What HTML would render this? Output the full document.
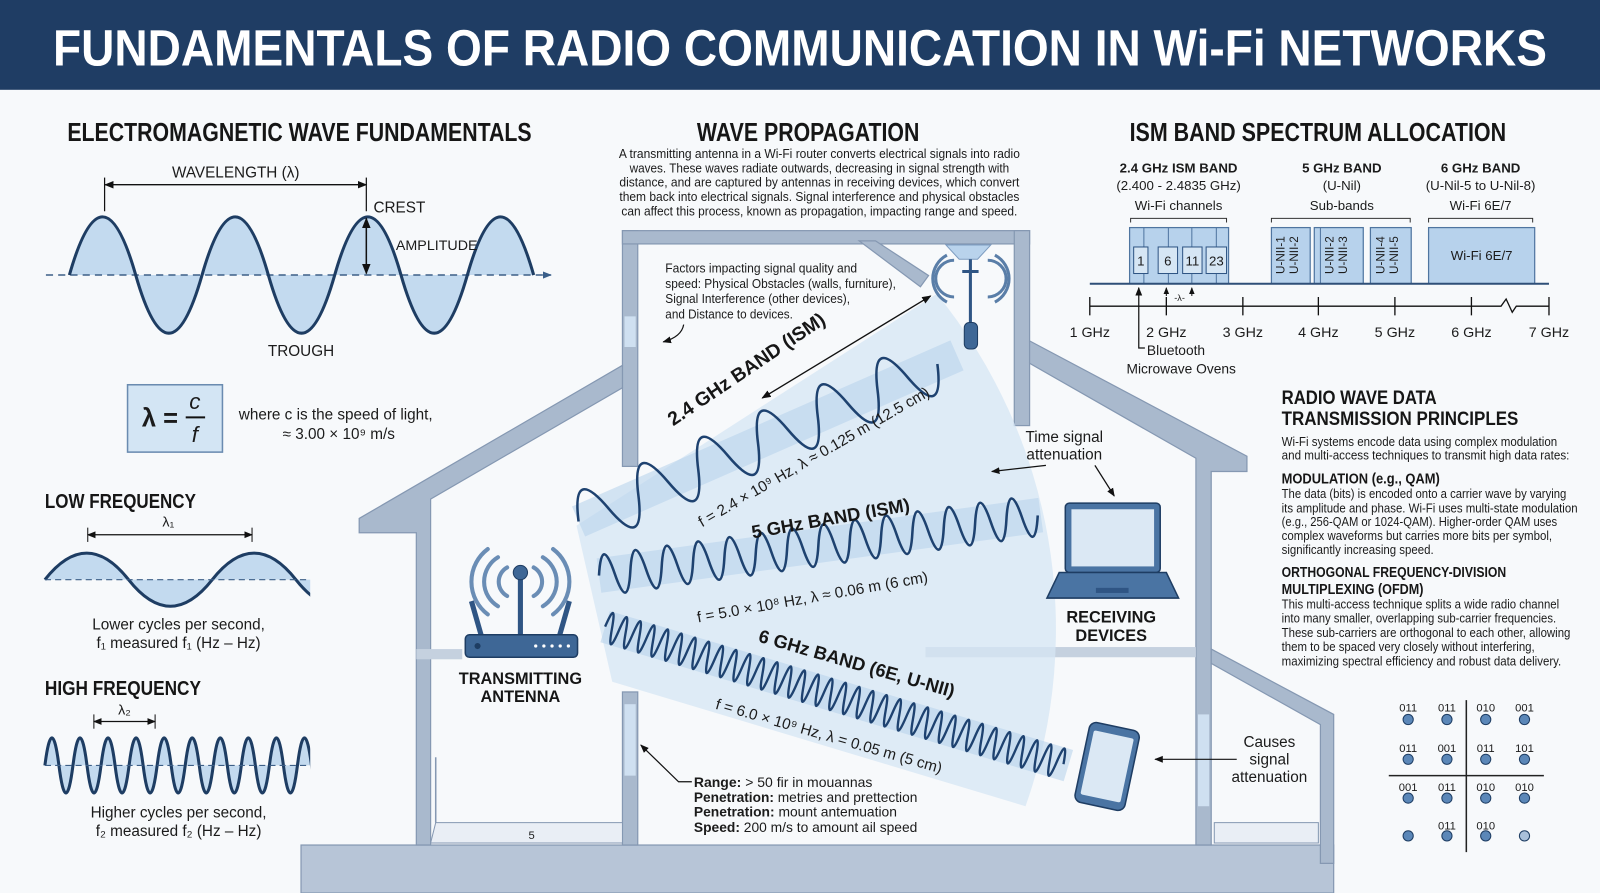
<!DOCTYPE html>
<html><head><meta charset="utf-8"><style>
html,body{margin:0;padding:0;background:#f7f9fb;}
svg{display:block;}
text{font-family:"Liberation Sans Narrow","Liberation Sans",sans-serif;fill:#1b1b1b;}
.b{font-weight:bold;}
.h{font-family:"Liberation Sans Narrow","Liberation Sans",sans-serif;font-weight:bold;fill:#161616;}
</style></head><body>
<svg width="1600" height="893" viewBox="0 0 1568 875" preserveAspectRatio="none" xmlns="http://www.w3.org/2000/svg">
<defs>
<marker id="ar" viewBox="0 0 10 10" refX="9" refY="5" markerWidth="7" markerHeight="7" orient="auto-start-reverse"><path d="M0,1 L10,5 L0,9 Z" fill="#111"/></marker>
<marker id="ab" viewBox="0 0 10 10" refX="9" refY="5" markerWidth="6" markerHeight="6" orient="auto-start-reverse"><path d="M0,1 L10,5 L0,9 Z" fill="#3a5f8a"/></marker>
<clipPath id="cl1"><rect x="40" y="520" width="264" height="80"/></clipPath>
<clipPath id="cl2"><rect x="40" y="710" width="264" height="80"/></clipPath>
</defs>
<rect width="1568" height="875" fill="#f7f9fb"/>
<!-- title -->
<rect x="0" y="0" width="1568" height="88" fill="#1f3d64"/>
<text x="52" y="64" class="h" style="fill:#fff;font-family:'Liberation Sans',sans-serif" font-size="50" textLength="1464" lengthAdjust="spacingAndGlyphs">FUNDAMENTALS OF RADIO COMMUNICATION IN Wi-Fi NETWORKS</text>

<!-- section headings -->
<text x="66" y="138" class="h" font-size="25" textLength="455" lengthAdjust="spacingAndGlyphs">ELECTROMAGNETIC WAVE FUNDAMENTALS</text>
<text x="683" y="138" class="h" font-size="25" textLength="218" lengthAdjust="spacingAndGlyphs">WAVE PROPAGATION</text>
<text x="1107" y="138" class="h" font-size="25" textLength="369" lengthAdjust="spacingAndGlyphs">ISM BAND SPECTRUM ALLOCATION</text>

<!-- EM wave -->
<text x="231" y="174" font-size="15" text-anchor="middle">WAVELENGTH (λ)</text>
<line x1="103" y1="181" x2="359" y2="181" stroke="#111" stroke-width="1.3" marker-start="url(#ar)" marker-end="url(#ar)"/>
<line x1="102.5" y1="174" x2="102.5" y2="207" stroke="#111" stroke-width="1.2"/>
<line x1="359" y1="174" x2="359" y2="207" stroke="#111" stroke-width="1.2"/>
<path d="M68 269.5 q32.5 -114 65 0 t65 0 t65 0 t65 0 t65 0 t65 0 t65 0 Z" fill="#c3daef" stroke="none"/>
<line x1="45" y1="269.5" x2="540" y2="269.5" stroke="#3d5f87" stroke-width="1.5" stroke-dasharray="7 5" marker-end="url(#ab)"/>
<path d="M68 269.5 q32.5 -114 65 0 t65 0 t65 0 t65 0 t65 0 t65 0 t65 0" fill="none" stroke="#1e3d63" stroke-width="3"/>
<text x="366" y="208" font-size="15">CREST</text>
<text x="388" y="245" font-size="14">AMPLITUDE</text>
<line x1="359" y1="214" x2="359" y2="268" stroke="#111" stroke-width="1.5" marker-start="url(#ar)" marker-end="url(#ar)"/>
<text x="295" y="349" font-size="15" text-anchor="middle">TROUGH</text>
<rect x="125" y="377" width="93" height="66" fill="#d3e5f4" stroke="#6a8bb0" stroke-width="1.5"/>
<text x="139" y="418" class="b" font-size="25" style="font-family:'Liberation Sans',sans-serif">λ =</text>
<text x="191" y="401" font-size="22" text-anchor="middle" style="font-family:'Liberation Sans',sans-serif;font-style:italic">c</text>
<line x1="182" y1="409" x2="201" y2="409" stroke="#111" stroke-width="2"/>
<text x="191" y="433" font-size="22" text-anchor="middle" style="font-family:'Liberation Sans',sans-serif;font-style:italic">f</text>
<text x="329" y="411" font-size="15" text-anchor="middle">where c is the speed of light,</text>
<text x="332" y="430" font-size="15" text-anchor="middle">≈ 3.00 × 10⁹ m/s</text>

<!-- low freq -->
<text x="44" y="498" class="h" font-size="20" textLength="148" lengthAdjust="spacingAndGlyphs">LOW FREQUENCY</text>
<text x="165" y="516" font-size="14" text-anchor="middle">λ₁</text>
<line x1="86" y1="524" x2="247" y2="524" stroke="#111" stroke-width="1.2" marker-start="url(#ar)" marker-end="url(#ar)"/>
<line x1="86" y1="517" x2="86" y2="531" stroke="#111"/><line x1="247" y1="517" x2="247" y2="531" stroke="#111"/>
<g clip-path="url(#cl1)">
<path d="M44 568 q41 -52 82 0 t82 0 t82 0 t82 0 Z" fill="#c3daef"/>
<path d="M44 568 q41 -52 82 0 t82 0 t82 0 t82 0" fill="none" stroke="#1e3d63" stroke-width="3"/>
</g>
<line x1="44" y1="568" x2="303" y2="568" stroke="#3d5f87" stroke-width="1.2" stroke-dasharray="6 4"/>
<text x="175" y="617" font-size="15" text-anchor="middle">Lower cycles per second,</text>
<text x="175" y="635" font-size="15" text-anchor="middle">f₁ measured f₁ (Hz – Hz)</text>

<!-- high freq -->
<text x="44" y="681" class="h" font-size="20" textLength="153" lengthAdjust="spacingAndGlyphs">HIGH FREQUENCY</text>
<text x="122" y="700" font-size="14" text-anchor="middle">λ₂</text>
<line x1="92" y1="707" x2="152" y2="707" stroke="#111" stroke-width="1.2" marker-start="url(#ar)" marker-end="url(#ar)"/>
<line x1="92" y1="700" x2="92" y2="714" stroke="#111"/><line x1="152" y1="700" x2="152" y2="714" stroke="#111"/>
<g clip-path="url(#cl2)">
<path d="M44 750 q6.875 -54 13.75 0 t13.75 0 t13.75 0 t13.75 0 t13.75 0 t13.75 0 t13.75 0 t13.75 0 t13.75 0 t13.75 0 t13.75 0 t13.75 0 t13.75 0 t13.75 0 t13.75 0 t13.75 0 t13.75 0 t13.75 0 t13.75 0 t13.75 0 Z" fill="#c3daef"/>
<path d="M44 750 q6.875 -54 13.75 0 t13.75 0 t13.75 0 t13.75 0 t13.75 0 t13.75 0 t13.75 0 t13.75 0 t13.75 0 t13.75 0 t13.75 0 t13.75 0 t13.75 0 t13.75 0 t13.75 0 t13.75 0 t13.75 0 t13.75 0 t13.75 0 t13.75 0" fill="none" stroke="#1e3d63" stroke-width="3"/>
</g>
<line x1="44" y1="750" x2="303" y2="750" stroke="#3d5f87" stroke-width="1.2" stroke-dasharray="6 4"/>
<text x="175" y="801" font-size="15" text-anchor="middle">Higher cycles per second,</text>
<text x="175" y="819" font-size="15" text-anchor="middle">f₂ measured f₂ (Hz – Hz)</text>

<!-- wave propagation paragraph -->
<g font-size="12.5" text-anchor="middle">
<text x="803" y="155" textLength="393" lengthAdjust="spacingAndGlyphs">A transmitting antenna in a Wi-Fi router converts electrical signals into radio</text>
<text x="803" y="169" textLength="372" lengthAdjust="spacingAndGlyphs">waves. These waves radiate outwards, decreasing in signal strength with</text>
<text x="803" y="183" textLength="392" lengthAdjust="spacingAndGlyphs">distance, and are captured by antennas in receiving devices, which convert</text>
<text x="803" y="197" textLength="392" lengthAdjust="spacingAndGlyphs">them back into electrical signals. Signal interference and physical obstacles</text>
<text x="803" y="211" textLength="388" lengthAdjust="spacingAndGlyphs">can affect this process, known as propagation, impacting range and speed.</text>
</g>

<!-- HOUSE -->
<g fill="#a9b9cd" stroke="#8598b2" stroke-width="1.2">
<rect x="295" y="828" width="1012" height="47" fill="#b7c5d7"/>
<rect x="610" y="226" width="15" height="231"/>
<rect x="610" y="226" width="399" height="13"/>
<rect x="994" y="226" width="15" height="191"/>
<polygon points="842,236 858,236 910,270 902,281"/>
<polygon points="352,508 610,358 610,380 422,489 422,828 408,828 408,522 352,522"/>
<polygon points="1009,334 1222,447 1222,462 1187,462 1187,828 1172,828 1172,449 1009,356"/>
<polygon points="1187,636 1307,700 1307,846 1294,846 1294,710 1187,650"/>
<rect x="610" y="678" width="15" height="150"/>
<rect x="408" y="636" width="45" height="10" fill="#c5d1df" stroke="none"/>
<rect x="907" y="634" width="265" height="10" fill="#c5d1df" stroke="none"/>
</g>
<polygon points="427,806 610,806 610,826 422,826" fill="#e9eef5" stroke="#8598b2" stroke-width="1"/>
<line x1="427" y1="742" x2="427" y2="806" stroke="#8598b2" stroke-width="1.5"/>
<polygon points="1190,806 1292,806 1292,826 1190,826" fill="#e9eef5" stroke="#8598b2" stroke-width="1"/>
<rect x="612" y="310" width="11" height="30" fill="#cfe0f1"/>
<rect x="612" y="690" width="11" height="70" fill="#cfe0f1"/>
<rect x="1174" y="700" width="11" height="90" fill="#cfe0f1"/>

<!-- fan -->
<path d="M565,515 L918,288 A520 520 0 0 1 1005,790 L600,668 Z" fill="#d6e6f4" opacity="0.75"/>
<!-- beams -->
<g transform="translate(567,511) rotate(-23.7)"><rect x="0" y="-16" width="405" height="32" fill="#b9d3ec" opacity="0.6"/>
<path d="M0 0 q16 -54 32 0 t32 0 t32 0 t32 0 t32 0 t32 0 t32 0 t32 0 t32 0 t32 0 t32 0 t32 0" fill="none" stroke="#1e4270" stroke-width="2.5"/></g>
<g transform="translate(587,564) rotate(-7.8)"><rect x="0" y="-17" width="437" height="34" fill="#b9d3ec" opacity="0.6"/>
<path d="M0 0 q7.75 -40 15.5 0 t15.5 0 t15.5 0 t15.5 0 t15.5 0 t15.5 0 t15.5 0 t15.5 0 t15.5 0 t15.5 0 t15.5 0 t15.5 0 t15.5 0 t15.5 0 t15.5 0 t15.5 0 t15.5 0 t15.5 0 t15.5 0 t15.5 0 t15.5 0 t15.5 0 t15.5 0 t15.5 0 t15.5 0 t15.5 0 t15.5 0 t15.5 0" fill="none" stroke="#1e4270" stroke-width="2.5"/></g>
<g transform="translate(593,614) rotate(16.7)"><rect x="0" y="-16" width="474" height="32" fill="#b9d3ec" opacity="0.6"/>
<path d="M0 0 q3.5 -30 7 0 t7 0 t7 0 t7 0 t7 0 t7 0 t7 0 t7 0 t7 0 t7 0 t7 0 t7 0 t7 0 t7 0 t7 0 t7 0 t7 0 t7 0 t7 0 t7 0 t7 0 t7 0 t7 0 t7 0 t7 0 t7 0 t7 0 t7 0 t7 0 t7 0 t7 0 t7 0 t7 0 t7 0 t7 0 t7 0 t7 0 t7 0 t7 0 t7 0 t7 0 t7 0 t7 0 t7 0 t7 0 t7 0 t7 0 t7 0 t7 0 t7 0 t7 0 t7 0 t7 0 t7 0 t7 0 t7 0 t7 0 t7 0 t7 0 t7 0 t7 0 t7 0 t7 0 t7 0 t7 0 t7 0 t7 0" fill="none" stroke="#1e4270" stroke-width="2.3"/></g>

<!-- band labels -->
<text transform="translate(735,367) rotate(-34)" class="h" font-size="19" text-anchor="middle">2.4 GHz BAND (ISM)</text>
<text transform="translate(800,452) rotate(-30)" font-size="15" text-anchor="middle">f = 2.4 × 10⁹ Hz, λ ≈ 0.125 m (12.5 cm)</text>
<text transform="translate(815,514) rotate(-10)" class="h" font-size="18" text-anchor="middle">5 GHz BAND (ISM)</text>
<text transform="translate(797,590) rotate(-10)" font-size="15" text-anchor="middle">f = 5.0 × 10⁸ Hz, λ ≈ 0.06 m (6 cm)</text>
<text transform="translate(838,656) rotate(16)" class="h" font-size="18" text-anchor="middle">6 GHz BAND (6E, U-NII)</text>
<text transform="translate(811,726) rotate(16)" font-size="15" text-anchor="middle">f = 6.0 × 10⁹ Hz, λ = 0.05 m (5 cm)</text>
<line x1="747" y1="390" x2="912" y2="290" stroke="#111" stroke-width="1.3" marker-start="url(#ar)" marker-end="url(#ar)"/>

<!-- factors -->
<g font-size="12.5">
<text x="652" y="267" textLength="188" lengthAdjust="spacingAndGlyphs">Factors impacting signal quality and</text>
<text x="652" y="282" textLength="226" lengthAdjust="spacingAndGlyphs">speed: Physical Obstacles (walls, furniture),</text>
<text x="652" y="297" textLength="181" lengthAdjust="spacingAndGlyphs">Signal Interference (other devices),</text>
<text x="652" y="312" textLength="125" lengthAdjust="spacingAndGlyphs">and Distance to devices.</text>
</g>
<path d="M670,318 Q668,330 650,335" fill="none" stroke="#111" stroke-width="1.2" marker-end="url(#ar)"/>

<!-- ceiling AP -->
<g stroke="#5a7ea8" fill="none" stroke-width="3">
<path d="M935,255 a18 18 0 0 0 0 36"/><path d="M928,250 a26 26 0 0 0 0 46"/>
<path d="M968,255 a18 18 0 0 1 0 36"/><path d="M975,250 a26 26 0 0 1 0 46"/>
</g>
<path d="M927,240 L971,240 L958,254 L940,254 Z" fill="#b9d3ec" stroke="#7d9cc0"/>
<line x1="951" y1="254" x2="951" y2="318" stroke="#2f5584" stroke-width="3"/>
<line x1="943" y1="266" x2="959" y2="266" stroke="#2f5584" stroke-width="3"/>
<rect x="945" y="316" width="13" height="26" rx="5" fill="#3e6796" stroke="#1e3d63"/>

<!-- router -->
<g stroke="#6a8db5" fill="none" stroke-width="4" stroke-linecap="round">
<path d="M497,556 a16 16 0 0 0 0 28"/><path d="M488,546 a28 28 0 0 0 0 48"/><path d="M478,538 a40 40 0 0 0 0 64"/>
<path d="M523,556 a16 16 0 0 1 0 28"/><path d="M532,546 a28 28 0 0 1 0 48"/><path d="M542,538 a40 40 0 0 1 0 64"/>
</g>
<line x1="510" y1="566" x2="510" y2="624" stroke="#2f5584" stroke-width="5"/>
<circle cx="510" cy="561" r="7" fill="#3e6796" stroke="#1e3d63"/>
<line x1="462" y1="589" x2="472" y2="624" stroke="#2f5584" stroke-width="5"/>
<line x1="558" y1="589" x2="548" y2="624" stroke="#2f5584" stroke-width="5"/>
<rect x="456" y="622" width="110" height="22" rx="4" fill="#3e6796" stroke="#1e3d63" stroke-width="1.5"/>
<circle cx="468" cy="633" r="3" fill="#1e3d63"/>
<g fill="#fff"><circle cx="525" cy="633" r="1.6"/><circle cx="533" cy="633" r="1.6"/><circle cx="541" cy="633" r="1.6"/><circle cx="549" cy="633" r="1.6"/><circle cx="557" cy="633" r="1.6"/></g>
<text x="510" y="670" class="h" font-size="16" text-anchor="middle">TRANSMITTING</text>
<text x="510" y="688" class="h" font-size="16" text-anchor="middle">ANTENNA</text>

<!-- laptop -->
<rect x="1044" y="493" width="93" height="68" rx="4" fill="#4a74a3" stroke="#1e3d63" stroke-width="1.5"/>
<rect x="1050" y="499" width="81" height="56" fill="#dbe8f4"/>
<path d="M1038,561 L1143,561 L1155,586 L1026,586 Z" fill="#4a74a3" stroke="#1e3d63" stroke-width="1.5"/>
<rect x="1074" y="576" width="32" height="5" fill="#2f5584"/>
<text x="1089" y="610" class="h" font-size="16" text-anchor="middle">RECEIVING</text>
<text x="1089" y="628" class="h" font-size="16" text-anchor="middle">DEVICES</text>
<text x="1043" y="433" font-size="15" text-anchor="middle">Time signal</text>
<text x="1043" y="450" font-size="15" text-anchor="middle">attenuation</text>
<line x1="1025" y1="456" x2="972" y2="462" stroke="#111" stroke-width="1.2" marker-end="url(#ar)"/>
<line x1="1073" y1="456" x2="1092" y2="486" stroke="#111" stroke-width="1.2" marker-end="url(#ar)"/>

<!-- phone -->
<g transform="translate(1085,751) rotate(12)">
<rect x="-25" y="-40" width="50" height="80" rx="7" fill="#4a74a3" stroke="#1e3d63" stroke-width="1.5"/>
<rect x="-20" y="-32" width="40" height="64" rx="2" fill="#dbe8f4"/>
</g>
<text x="1244" y="732" font-size="15" text-anchor="middle">Causes</text>
<text x="1244" y="749" font-size="15" text-anchor="middle">signal</text>
<text x="1244" y="766" font-size="15" text-anchor="middle">attenuation</text>
<line x1="1212" y1="744" x2="1132" y2="744" stroke="#111" stroke-width="1.2" marker-end="url(#ar)"/>

<!-- bottom list -->
<g font-size="13.5">
<text x="680" y="771" textLength="175" lengthAdjust="spacingAndGlyphs"><tspan class="b">Range:</tspan> &gt; 50 fir in mouannas</text>
<text x="680" y="786" textLength="219" lengthAdjust="spacingAndGlyphs"><tspan class="b">Penetration:</tspan> metries and prettection</text>
<text x="680" y="800" textLength="199" lengthAdjust="spacingAndGlyphs"><tspan class="b">Penetration:</tspan> mount antemuation</text>
<text x="680" y="815" textLength="219" lengthAdjust="spacingAndGlyphs"><tspan class="b">Speed:</tspan> 200 m/s to amount ail speed</text>
</g>
<path d="M678,766 L665,766 L628,730" fill="none" stroke="#111" stroke-width="1.2" marker-end="url(#ar)"/>
<text x="521" y="822" font-size="11" text-anchor="middle">5</text>

<!-- SPECTRUM -->
<g font-size="13" text-anchor="middle">
<text x="1155" y="169" class="b">2.4 GHz ISM BAND</text>
<text x="1155" y="186">(2.400 - 2.4835 GHz)</text>
<text x="1155" y="206">Wi-Fi channels</text>
<text x="1315" y="169" class="b">5 GHz BAND</text>
<text x="1315" y="186">(U-Nil)</text>
<text x="1315" y="206">Sub-bands</text>
<text x="1451" y="169" class="b">6 GHz BAND</text>
<text x="1451" y="186">(U-Nil-5 to U-Nil-8)</text>
<text x="1451" y="206">Wi-Fi 6E/7</text>
</g>
<g fill="none" stroke="#333" stroke-width="1">
<path d="M1108,218 v-4 h94 v4"/><path d="M1246,218 v-4 h136 v4"/><path d="M1400,218 v-4 h102 v4"/>
</g>
<g fill="#b7d2ec" stroke="#4f75a0" stroke-width="1.2">
<rect x="1107" y="223" width="97" height="55"/>
<rect x="1246" y="223" width="38" height="55"/><rect x="1288" y="223" width="48" height="55"/><rect x="1343" y="223" width="40" height="55"/>
<rect x="1400" y="223" width="104" height="55"/>
</g>
<g stroke="#4f75a0" stroke-width="1"><line x1="1121" y1="223" x2="1121" y2="278"/><line x1="1145" y1="223" x2="1145" y2="278"/><line x1="1168" y1="223" x2="1168" y2="278"/><line x1="1192" y1="223" x2="1192" y2="278"/><line x1="1294" y1="223" x2="1294" y2="278"/></g>
<g fill="#d6e6f4" stroke="#2f5584" stroke-width="1">
<rect x="1111" y="242" width="14" height="26"/><rect x="1135" y="242" width="19" height="26"/><rect x="1159" y="242" width="19" height="26"/><rect x="1182" y="242" width="20" height="26"/>
</g>
<g font-size="13" text-anchor="middle"><text x="1118" y="260">1</text><text x="1144.5" y="260">6</text><text x="1168.5" y="260">11</text><text x="1192" y="260">23</text></g>
<g font-size="11.5" text-anchor="middle">
<text transform="translate(1259,250) rotate(-90)">U-NII-1</text><text transform="translate(1272,250) rotate(-90)">U-NII-2</text>
<text transform="translate(1307,250) rotate(-90)">U-NII-2</text><text transform="translate(1320,250) rotate(-90)">U-NII-3</text>
<text transform="translate(1357,250) rotate(-90)">U-NII-4</text><text transform="translate(1370,250) rotate(-90)">U-NII-5</text>
</g>
<text x="1452" y="255" font-size="13" text-anchor="middle">Wi-Fi 6E/7</text>
<line x1="1068" y1="278" x2="1518" y2="278" stroke="#2f4f78" stroke-width="2"/>
<path d="M1068,300 H1471 l5,-7 l6,13 l4,-6 H1518" fill="none" stroke="#111" stroke-width="1.3"/>
<g stroke="#111" stroke-width="1.3"><line x1="1068" y1="291" x2="1068" y2="309"/><line x1="1143" y1="291" x2="1143" y2="309"/><line x1="1218" y1="291" x2="1218" y2="309"/><line x1="1292" y1="291" x2="1292" y2="309"/><line x1="1367" y1="291" x2="1367" y2="309"/><line x1="1442" y1="291" x2="1442" y2="309"/><line x1="1518" y1="291" x2="1518" y2="309"/></g>
<g font-size="14" text-anchor="middle"><text x="1068" y="330">1 GHz</text><text x="1143" y="330">2 GHz</text><text x="1218" y="330">3 GHz</text><text x="1292" y="330">4 GHz</text><text x="1367" y="330">5 GHz</text><text x="1442" y="330">6 GHz</text><text x="1518" y="330">7 GHz</text></g>
<path d="M1122,341 H1116 V282" fill="none" stroke="#111" stroke-width="1.2" marker-end="url(#ar)"/>
<text x="1124" y="348" font-size="13.5">Bluetooth</text>
<text x="1104" y="366" font-size="13.5">Microwave Ovens</text>
<line x1="1143" y1="290" x2="1143" y2="282" stroke="#111" marker-end="url(#ar)"/>
<line x1="1168" y1="290" x2="1168" y2="282" stroke="#111" marker-end="url(#ar)"/>
<text x="1156" y="295" font-size="9" text-anchor="middle">-λ-</text>

<!-- RIGHT TEXT -->
<text x="1256" y="396" class="h" font-size="19" textLength="152" lengthAdjust="spacingAndGlyphs">RADIO WAVE DATA</text>
<text x="1256" y="416.5" class="h" font-size="19" textLength="232" lengthAdjust="spacingAndGlyphs">TRANSMISSION PRINCIPLES</text>
<g font-size="12.5">
<text x="1256" y="437" textLength="270" lengthAdjust="spacingAndGlyphs">Wi-Fi systems encode data using complex modulation</text>
<text x="1256" y="450" textLength="282" lengthAdjust="spacingAndGlyphs">and multi-access techniques to transmit high data rates:</text>
<text x="1256" y="474" class="h" font-size="14.5" textLength="155" lengthAdjust="spacingAndGlyphs">MODULATION (e.g., QAM)</text>
<text x="1256" y="488" textLength="279" lengthAdjust="spacingAndGlyphs">The data (bits) is encoded onto a carrier wave by varying</text>
<text x="1256" y="502" textLength="290" lengthAdjust="spacingAndGlyphs">its amplitude and phase. Wi-Fi uses multi-state modulation</text>
<text x="1256" y="515.5" textLength="270" lengthAdjust="spacingAndGlyphs">(e.g., 256-QAM or 1024-QAM). Higher-order QAM uses</text>
<text x="1256" y="529" textLength="265" lengthAdjust="spacingAndGlyphs">complex waveforms but carries more bits per symbol,</text>
<text x="1256" y="543" textLength="149" lengthAdjust="spacingAndGlyphs">significantly increasing speed.</text>
<text x="1256" y="565.5" class="h" font-size="14.5" textLength="220" lengthAdjust="spacingAndGlyphs">ORTHOGONAL FREQUENCY-DIVISION</text>
<text x="1256" y="582" class="h" font-size="14.5" textLength="139" lengthAdjust="spacingAndGlyphs">MULTIPLEXING (OFDM)</text>
<text x="1256" y="596" textLength="272" lengthAdjust="spacingAndGlyphs">This multi-access technique splits a wide radio channel</text>
<text x="1256" y="610" textLength="269" lengthAdjust="spacingAndGlyphs">into many smaller, overlapping sub-carrier frequencies.</text>
<text x="1256" y="624" textLength="283" lengthAdjust="spacingAndGlyphs">These sub-carriers are orthogonal to each other, allowing</text>
<text x="1256" y="638" textLength="248" lengthAdjust="spacingAndGlyphs">them to be spaced very closely without interfering,</text>
<text x="1256" y="652" textLength="274" lengthAdjust="spacingAndGlyphs">maximizing spectral efficiency and robust data delivery.</text>
</g>

<!-- QAM -->
<line x1="1437" y1="686" x2="1437" y2="835" stroke="#222" stroke-width="1.5"/>
<line x1="1361" y1="760" x2="1513" y2="760" stroke="#222" stroke-width="1.5"/>
<g font-size="11" text-anchor="middle">
<text x="1380" y="697">011</text><text x="1418" y="697">011</text><text x="1456" y="697">010</text><text x="1494" y="697">001</text>
<text x="1380" y="737">011</text><text x="1418" y="737">001</text><text x="1456" y="737">011</text><text x="1494" y="737">101</text>
<text x="1380" y="775">001</text><text x="1418" y="775">011</text><text x="1456" y="775">010</text><text x="1494" y="775">010</text>
<text x="1418" y="813">011</text><text x="1456" y="813">010</text>
</g>
<g fill="#5b87b8" stroke="#1e3d63" stroke-width="1">
<circle cx="1380" cy="705" r="5"/><circle cx="1418" cy="705" r="5"/><circle cx="1456" cy="705" r="5"/><circle cx="1494" cy="705" r="5"/>
<circle cx="1380" cy="744" r="5"/><circle cx="1418" cy="744" r="5"/><circle cx="1456" cy="744" r="5"/><circle cx="1494" cy="744" r="5"/>
<circle cx="1380" cy="782" r="5"/><circle cx="1418" cy="782" r="5"/><circle cx="1456" cy="782" r="5"/><circle cx="1494" cy="782" r="5"/>
<circle cx="1380" cy="819" r="5"/><circle cx="1418" cy="819" r="5"/><circle cx="1456" cy="819" r="5"/><circle cx="1494" cy="819" r="5" fill="#a9c0da"/>
</g>
</svg>
</body></html>
